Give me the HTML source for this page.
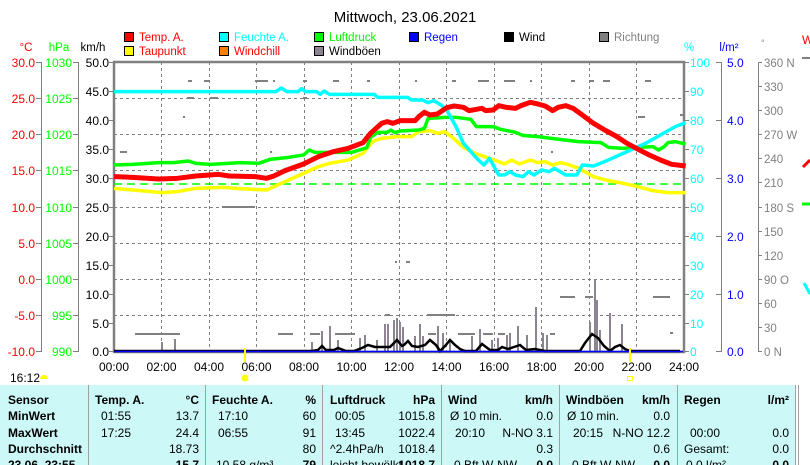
<!DOCTYPE html>
<html><head><meta charset="utf-8"><style>
html,body{margin:0;padding:0;background:#fff;}
body{width:810px;height:465px;overflow:hidden;position:relative;font-family:"Liberation Sans",sans-serif;}
svg{position:absolute;left:0;top:0;}
</style></head><body>
<svg width="810" height="465" viewBox="0 0 810 465" font-family="Liberation Sans, sans-serif">
<text x="405" y="22" font-size="15" text-anchor="middle">Mittwoch, 23.06.2021</text>
<g font-size="11.5">
<rect x="124.5" y="32.5" width="9" height="9" fill="#f00" stroke="#000"/><text x="139" y="41" fill="#f00">Temp. A.</text>
<rect x="219.5" y="32.5" width="9" height="9" fill="#0ff" stroke="#000"/><text x="234" y="41" fill="#0ff">Feuchte A.</text>
<rect x="314.5" y="32.5" width="9" height="9" fill="#0f0" stroke="#000"/><text x="329" y="41" fill="#0f0">Luftdruck</text>
<rect x="409.5" y="32.5" width="9" height="9" fill="#00f" stroke="#000"/><text x="424" y="41" fill="#00f">Regen</text>
<rect x="504.5" y="32.5" width="9" height="9" fill="#000" stroke="#000"/><text x="519" y="41" fill="#000">Wind</text>
<rect x="599.5" y="32.5" width="9" height="9" fill="#808080" stroke="#000"/><text x="614" y="41" fill="#808080">Richtung</text>
<rect x="124.5" y="46.5" width="9" height="9" fill="#ff0" stroke="#000"/><text x="139" y="55" fill="#f00">Taupunkt</text>
<rect x="219.5" y="46.5" width="9" height="9" fill="#ff8000" stroke="#000"/><text x="234" y="55" fill="#f00">Windchill</text>
<rect x="314.5" y="46.5" width="9" height="9" fill="#8c8490" stroke="#000"/><text x="329" y="55" fill="#000">Windböen</text>
</g>
<g font-size="11.5">
<text x="26" y="51" fill="#f00" text-anchor="middle">°C</text>
<text x="59" y="51" fill="#0f0" text-anchor="middle">hPa</text>
<text x="93" y="51" fill="#000" text-anchor="middle">km/h</text>
<text x="689" y="51" fill="#0ff" text-anchor="middle">%</text>
<text x="729" y="51" fill="#00f" text-anchor="middle">l/m²</text>
<text x="761" y="46" fill="#808080" font-size="9">°</text>
</g>
<g stroke="#808080" stroke-width="1">
<line x1="41.5" y1="62" x2="41.5" y2="352"/>
<line x1="78.5" y1="62" x2="78.5" y2="352"/>
<line x1="721.5" y1="62" x2="721.5" y2="352"/>
<line x1="758.5" y1="62" x2="758.5" y2="352"/>
</g>
<g stroke="#808080">
<path d="M36 62.5h6M36 98.5h6M36 134.5h6M36 170.5h6M36 207.5h6M36 243.5h6M36 279.5h6M36 315.5h6M36 351.5h6"/>
<path d="M73 62.5h6M73 98.5h6M73 134.5h6M73 170.5h6M73 207.5h6M73 243.5h6M73 279.5h6M73 315.5h6M73 351.5h6"/>
<path d="M109 62.5h5M109 91.5h5M109 120.5h5M109 149.5h5M109 178.5h5M109 207.5h5M109 236.5h5M109 265.5h5M109 294.5h5M109 323.5h5M109 351.5h5"/>
<path d="M684 62.5h5M684 91.5h5M684 120.5h5M684 149.5h5M684 178.5h5M684 207.5h5M684 236.5h5M684 265.5h5M684 294.5h5M684 323.5h5M684 351.5h5"/>
<path d="M716 62.5h6M716 120.5h6M716 178.5h6M716 236.5h6M716 294.5h6M716 351.5h6"/>
<path d="M758 62.5h4M758 86.5h4M758 110.5h4M758 134.5h4M758 158.5h4M758 182.5h4M758 207.5h4M758 231.5h4M758 255.5h4M758 279.5h4M758 303.5h4M758 327.5h4M758 351.5h4"/>
</g>
<g font-size="12" fill="#f00" text-anchor="end">
<text x="35" y="67">30.0</text><text x="35" y="103">25.0</text><text x="35" y="139">20.0</text><text x="35" y="175">15.0</text><text x="35" y="212">10.0</text><text x="35" y="248">5.0</text><text x="35" y="284">0.0</text><text x="35" y="320">-5.0</text><text x="35" y="356">-10.0</text>
</g>
<g font-size="12" fill="#0f0" text-anchor="end">
<text x="72" y="67">1030</text><text x="72" y="103">1025</text><text x="72" y="139">1020</text><text x="72" y="175">1015</text><text x="72" y="212">1010</text><text x="72" y="248">1005</text><text x="72" y="284">1000</text><text x="72" y="320">995</text><text x="72" y="356">990</text>
</g>
<g font-size="12" fill="#000" text-anchor="end">
<text x="109" y="67">50.0</text><text x="109" y="96">45.0</text><text x="109" y="125">40.0</text><text x="109" y="154">35.0</text><text x="109" y="183">30.0</text><text x="109" y="212">25.0</text><text x="109" y="241">20.0</text><text x="109" y="270">15.0</text><text x="109" y="299">10.0</text><text x="109" y="328">5.0</text><text x="109" y="356">0.0</text>
</g>
<g font-size="12" fill="#0ff">
<text x="690" y="67">100</text><text x="690" y="96">90</text><text x="690" y="125">80</text><text x="690" y="154">70</text><text x="690" y="183">60</text><text x="690" y="212">50</text><text x="690" y="241">40</text><text x="690" y="270">30</text><text x="690" y="299">20</text><text x="690" y="328">10</text><text x="690" y="356">0</text>
</g>
<g font-size="12" fill="#00f">
<text x="727" y="67">5.0</text><text x="727" y="125">4.0</text><text x="727" y="183">3.0</text><text x="727" y="241">2.0</text><text x="727" y="299">1.0</text><text x="727" y="356">0.0</text>
</g>
<g font-size="11.5" fill="#808080">
<text x="764" y="67">360 N</text><text x="764" y="91">330</text><text x="764" y="115">300</text><text x="764" y="139">270 W</text><text x="764" y="163">240</text><text x="764" y="187">210</text><text x="764" y="212">180 S</text><text x="764" y="236">150</text><text x="764" y="260">120</text><text x="764" y="284">90  O</text><text x="764" y="308">60</text><text x="764" y="332">30</text><text x="764" y="356">0   N</text>
</g>
<g stroke="#808080" stroke-dasharray="3,3" stroke-width="1">
<path d="M114 98.5H684M114 134.5H684M114 170.5H684M114 207.5H684M114 243.5H684M114 279.5H684M114 315.5H684"/>
<path d="M161.5 62V352M209.5 62V352M256.5 62V352M304.5 62V352M351.5 62V352M399.5 62V352M446.5 62V352M494.5 62V352M541.5 62V352M589.5 62V352M636.5 62V352"/>
</g>
<rect x="114" y="62" width="570" height="290" fill="none" stroke="#808080" stroke-width="2.5"/>
<g font-size="12" text-anchor="middle">
<text x="114" y="371">00:00</text><text x="161.5" y="371">02:00</text><text x="209" y="371">04:00</text><text x="256.5" y="371">06:00</text><text x="304" y="371">08:00</text><text x="351.5" y="371">10:00</text><text x="399" y="371">12:00</text><text x="446.5" y="371">14:00</text><text x="494" y="371">16:00</text><text x="541.5" y="371">18:00</text><text x="589" y="371">20:00</text><text x="636.5" y="371">22:00</text><text x="684" y="371">24:00</text>
</g>
<g stroke="#808080" stroke-width="2">
<path d="M135 334h45M278 334h15M310 334h10M335 334h20M428 334h8M470 334h5M498 334h7M385 315h5M427 315h13M432 315h23M458 334h12M483 334h10M550 334h5M560 297h15M585 297h8M653 297h17M670 333h3M395 262h2M406 262h4"/>
<path d="M188 81h4M204 81h6M255 81h13M273 81h2M303 81h4M333 81h6M367 81h3M415 81h2M452 81h4M478 81h11M504 81h11M530 81h2M571 81h4M590 81h4M603 81h7M645 81h6M187 98h7M210 98h8M303 98h4M222 207h33M120 152h7M270 152h2M551 152h2M638 117h7M680 115h4M183 117h2"/>
</g>
<g stroke="#8c8490" stroke-width="2">
<path d="M162 351V342M175 351V339M312 351V342M322 351V331M330 351V326M338 351V340M360 351V338M365 351V335M377 351V340M385 351V324M388 351V324M394 351V320M397 351V318M400 351V322M403 351V327M415 351V336M420 351V324M423 351V336M438 351V326M443 351V333M450 351V340M472 351V336M480 351V329M492 351V340M498 351V338M507 351V335M510 351V333M518 351V326M527 351V335M536 351V307M543 351V333M547 351V335M590 351V322M595 351V280M597 351V300M600 351V330M610 351V313M622 351V324"/>
</g>
<polyline fill="none" stroke="#000" stroke-width="2.5" points="114,351 312,351 318,350 322,346 326,350 334,350 338,348 346,351 354,351 362,348 368,345 375,347 382,347 390,347 397,340 402,346 404,345 408,341 412,346 418,347 425,345 430,340 436,345 440,351 445,346 450,340 455,345 460,349 465,351 476,351 482,344 486,347 490,350 498,350 502,347 508,349 514,347 520,345 526,350 535,349 540,350 545,351 580,351 585,343 592,334 598,338 604,346 610,351 615,347 620,345 625,349 630,351 680,351"/>
<line x1="114" y1="351.5" x2="683" y2="351.5" stroke="#00f" stroke-width="1.5"/>
<line x1="114" y1="184" x2="684" y2="184" stroke="#0f0" stroke-width="1.5" stroke-dasharray="8,5"/>
<g transform="translate(110.3,60) scale(0.3717,0.3333)" fill="none" stroke-width="3.5" stroke-linejoin="round">
<polyline vector-effect="non-scaling-stroke" stroke="#ffff00" points="10,385 80,392 140,398 180,395 230,385 300,382 350,386 420,390 450,375 480,360 530,335 560,320 590,310 640,300 680,280 705,245 730,235 770,230 810,230 830,215 860,212 880,220 900,215 920,232 950,262 980,280 1020,295 1045,305 1060,312 1080,300 1100,312 1130,300 1150,308 1170,305 1190,315 1210,308 1230,313 1260,325 1300,350 1340,362 1380,370 1420,380 1460,392 1500,398 1548,398"/>
<polyline vector-effect="non-scaling-stroke" stroke="#00ff00" points="10,315 60,313 130,308 170,308 210,303 230,310 270,313 350,308 400,310 430,298 480,292 520,285 535,270 550,277 600,277 650,277 670,270 690,263 700,232 720,217 745,217 755,210 765,218 780,213 830,210 845,205 855,175 900,172 930,172 970,178 985,200 1030,200 1050,208 1090,217 1110,226 1150,230 1200,237 1260,245 1320,248 1340,262 1380,265 1420,262 1460,260 1475,270 1490,260 1500,248 1520,245 1548,252"/>
<polyline vector-effect="non-scaling-stroke" stroke="#00ffff" points="10,95 445,95 460,84 475,95 505,95 515,86 525,95 555,95 565,103 575,93 590,103 710,103 720,112 800,112 810,120 840,120 855,128 870,122 890,135 905,150 930,200 950,250 970,275 990,300 1005,315 1020,295 1030,315 1045,345 1060,345 1075,335 1090,345 1110,350 1125,335 1140,345 1160,330 1180,335 1195,325 1210,335 1225,345 1255,345 1270,315 1300,318 1330,305 1360,290 1400,270 1440,250 1480,225 1520,200 1548,188"/>
<polyline vector-effect="non-scaling-stroke" stroke="#ff0000" stroke-width="5" points="10,350 60,352 130,357 180,355 230,348 290,343 320,348 390,350 420,355 440,348 470,332 520,312 560,290 600,275 640,265 680,248 700,220 730,190 745,185 760,190 780,182 820,182 830,170 845,157 860,165 880,162 905,143 925,138 950,142 965,152 985,148 1000,145 1010,152 1030,150 1045,137 1065,142 1090,145 1105,137 1130,127 1150,132 1170,138 1190,152 1205,142 1225,137 1245,145 1270,165 1300,190 1330,210 1360,228 1390,250 1420,268 1450,285 1480,300 1510,313 1548,318"/>
</g>
<text x="802" y="44" fill="#f00" font-size="12">W</text>
<line x1="802" y1="58" x2="810" y2="58" stroke="#808080" stroke-width="2"/>
<path d="M803 167L810 160" stroke="#f00" stroke-width="3"/>
<path d="M802 204h8" stroke="#0f0" stroke-width="3"/>
<path d="M804 283L810 294" stroke="#0ff" stroke-width="3"/>
<line x1="245" y1="348" x2="245" y2="362" stroke="#ff0" stroke-width="2"/>
<circle cx="245" cy="378" r="3.5" fill="#ff0"/>
<line x1="630" y1="348" x2="630" y2="362" stroke="#ff0" stroke-width="2"/>
<rect x="627.5" y="376.5" width="5" height="4" fill="none" stroke="#ff0"/>
<text x="10" y="382" font-size="12">16:12</text>
<path d="M40 379a4 4 0 0 1 8 0z" fill="#ff0"/>
<rect x="0" y="385" width="796" height="80" fill="#ccf8f8"/>
<g stroke="#a0a0a0" stroke-width="1">
<path d="M88.5 385V465M205.5 385V465M322.5 385V465M441.5 385V465M559.5 385V465M677.5 385V465M795.5 385V465M798.5 385V465"/>
</g>
<g font-size="12" font-weight="bold">
<text x="8" y="404">Sensor</text><text x="8" y="420">MinWert</text><text x="8" y="437">MaxWert</text><text x="8" y="453">Durchschnitt</text><text x="8" y="469">23.06. 23:55</text>
<text x="95" y="404">Temp. A.</text><text x="199" y="404" text-anchor="end">°C</text>
<text x="212" y="404">Feuchte A.</text><text x="316" y="404" text-anchor="end">%</text>
<text x="330" y="404">Luftdruck</text><text x="435" y="404" text-anchor="end">hPa</text>
<text x="448" y="404">Wind</text><text x="553" y="404" text-anchor="end">km/h</text>
<text x="566" y="404">Windböen</text><text x="670" y="404" text-anchor="end">km/h</text>
<text x="684" y="404">Regen</text><text x="789" y="404" text-anchor="end">l/m²</text>
<text x="199" y="469" text-anchor="end">15.7</text><text x="316" y="469" text-anchor="end">79</text><text x="435" y="469" text-anchor="end">1018.7</text><text x="553" y="469" text-anchor="end">0.0</text><text x="670" y="469" text-anchor="end">0.0</text><text x="789" y="469" text-anchor="end">0.0</text>
</g>
<g font-size="12">
<text x="101" y="420">01:55</text><text x="199" y="420" text-anchor="end">13.7</text>
<text x="101" y="437">17:25</text><text x="199" y="437" text-anchor="end">24.4</text>
<text x="199" y="453" text-anchor="end">18.73</text>
<text x="218" y="420">17:10</text><text x="316" y="420" text-anchor="end">60</text>
<text x="218" y="437">06:55</text><text x="316" y="437" text-anchor="end">91</text>
<text x="316" y="453" text-anchor="end">80</text>
<text x="216" y="469">10.58 g/m³</text>
<text x="335" y="420">00:05</text><text x="435" y="420" text-anchor="end">1015.8</text>
<text x="335" y="437">13:45</text><text x="435" y="437" text-anchor="end">1022.4</text>
<text x="330" y="453">^2.4hPa/h</text><text x="435" y="453" text-anchor="end">1018.4</text>
<text x="330" y="469">leicht bewölkt</text>
<text x="450" y="420">Ø 10 min.</text><text x="553" y="420" text-anchor="end">0.0</text>
<text x="455" y="437">20:10</text><text x="553" y="437" text-anchor="end">N-NO 3.1</text>
<text x="553" y="453" text-anchor="end">0.3</text>
<text x="454" y="469">0 Bft W-NW</text>
<text x="567" y="420">Ø 10 min.</text><text x="670" y="420" text-anchor="end">0.0</text>
<text x="573" y="437">20:15</text><text x="670" y="437" text-anchor="end">N-NO 12.2</text>
<text x="670" y="453" text-anchor="end">0.6</text>
<text x="572" y="469">0 Bft W-NW</text>
<text x="690" y="437">00:00</text><text x="789" y="437" text-anchor="end">0.0</text>
<text x="684" y="453">Gesamt:</text><text x="789" y="453" text-anchor="end">0.0</text>
<text x="686" y="469">0.0 l/m²</text>
</g>
</svg>
</body></html>
